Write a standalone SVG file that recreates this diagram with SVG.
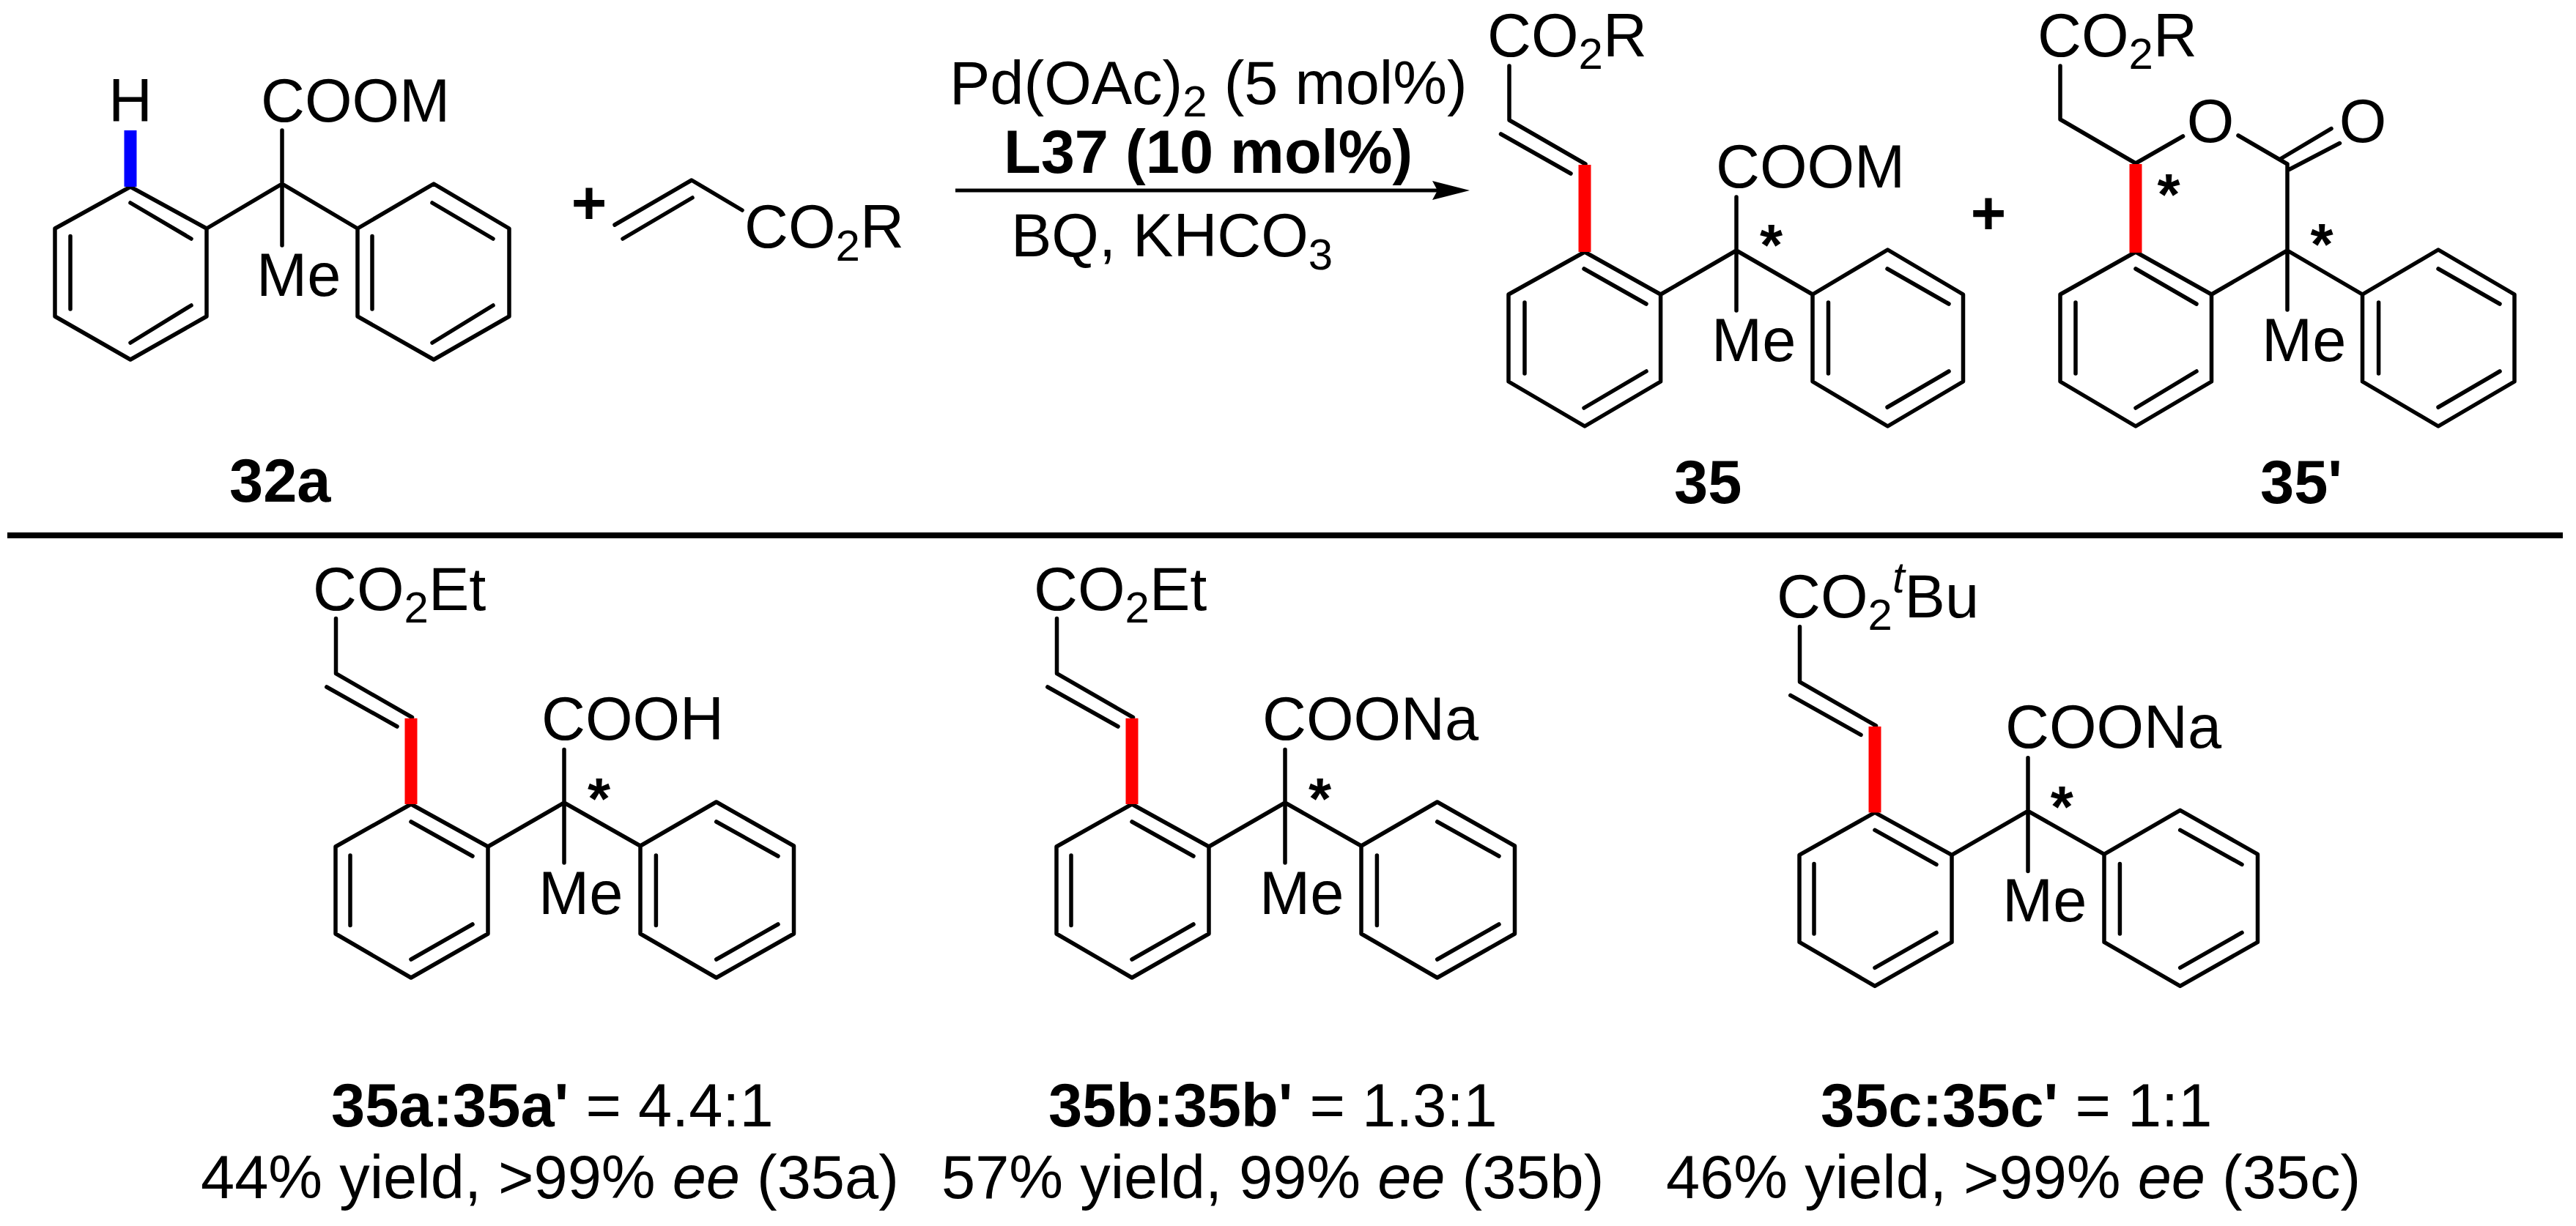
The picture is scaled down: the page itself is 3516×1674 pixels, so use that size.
<svg xmlns="http://www.w3.org/2000/svg" width="3516" height="1674" viewBox="0 0 3516 1674">
<style>
text{font-family:"Liberation Sans",Arial,sans-serif;font-size:83px;fill:#000}
.b{font-weight:700}
.s{font-size:60px}
.i{font-style:italic}
.m{text-anchor:middle}
.st{font-size:80px;font-weight:700;text-anchor:middle}
.bd{fill:none;stroke:#000;stroke-width:5.5;stroke-linecap:round;stroke-linejoin:round}
.red{fill:none;stroke:#f00;stroke-width:17}
.blue{fill:none;stroke:#00f;stroke-width:17}
.rule{stroke:#000;stroke-width:8}
.ar{stroke:#000;stroke-width:5;fill:none}
</style>
<defs>
<g id="sk">
<path class="bd" d="M458.5 844.4V919.7L562.5 979.5M445.8 938L542 992M561 1098L666 1156V1275L561 1335L458 1275V1156ZM561 1122L645 1169M478 1168V1263.5M561 1310L645 1262M666 1156L770 1096L874 1155M770 1023.4V1178M977.7 1095L1083.5 1155V1275L977.7 1335L874 1275V1155ZM977.7 1122L1062 1169M895.4 1168V1263.5M977.7 1310L1062 1262"/>
<path class="red" d="M561 980.7V1098"/>
</g>
</defs>
<rect width="3516" height="1674" fill="#fff"/>

<g id="node-32a">
<path class="bd" d="M178 255L282 312V432L178 491L75 432V312ZM178 277L261 326M96 322.6V422M178 468L261 417M282 312L385 251L488 312M385 178V335M592 251L695 312V432L592 491L488 432V312ZM590 277L673 326M508 322.6V422M590 468L673 417"/>
<path class="blue" d="M178 178V255"/>
<text class="m" x="178" y="165.6">H</text>
<text x="356" y="165.6">COOM</text>
<text x="350" y="404">Me</text>
<text class="b" x="313" y="685">32a</text>
</g>
<g id="plus-1"><text class="b m" x="804" y="306">+</text></g>
<g id="node-acrylate">
<path class="bd" d="M839 307L944 246L1013 287M850 326L945 270"/>
<text x="1016" y="338">CO<tspan class="s" dy="18">2</tspan><tspan dy="-18">R</tspan></text>
</g>

<g id="conditions">
<text x="1296" y="142">Pd(OAc)<tspan class="s" dy="17">2</tspan><tspan dy="-17"> (5 mol%)</tspan></text>
<text class="b" x="1370" y="236">L37 (10 mol%)</text>
<text x="1380" y="350">BQ, KHCO<tspan class="s" dy="18">3</tspan></text>
</g>
<g id="connectors">
<path class="ar" d="M1304 260H1965"/>
<path d="M1955 247L2006 260L1955 273L1962 260Z" fill="#000"/>
</g>

<g id="node-35">
<path class="bd" d="M2060 90V164L2164 224M2048.5 183L2144 237M2163 344L2266.6 402V521L2163 582L2059 521V402ZM2162 367L2247 415M2081 413V510M2162 557L2247 507M2266.6 402L2370 342L2474 402M2370 269V424M2576.5 341L2679.5 402V521L2576.5 582L2474 521V402ZM2576 367L2660 415M2495.5 413V510M2576 556L2660 507"/>
<path class="red" d="M2163 225V344"/>
<text x="2030" y="77">CO<tspan class="s" dy="17">2</tspan><tspan dy="-17">R</tspan></text>
<text x="2342" y="256">COOM</text>
<text class="st" x="2417.5" y="362">*</text>
<text x="2336" y="492.5">Me</text>
<text class="b" x="2285" y="686.5">35</text>
</g>
<g id="plus-2"><text class="b m" x="2714" y="320">+</text></g>
<g id="node-35p">
<path class="bd" d="M2812 90V163L2915 223L2979.6 186M3055 185L3122 224M3112.5 217L3182 175.6M3123.5 232L3193.5 195.5M3122 224V423M2915 344L3018.5 402V521L2915 582L2812 521V402ZM2915 367L2998 415M2833 413V510M2915 557L2998 507M3018.5 402L3122 342L3224.5 402M3328 341L3432 402V521L3328 582L3224.5 521V402ZM3328 367L3412 415M3246.6 413V510M3328 556L3412 507"/>
<path class="red" d="M2915 224V345"/>
<text x="2781" y="77">CO<tspan class="s" dy="17">2</tspan><tspan dy="-17">R</tspan></text>
<text class="m" x="3017" y="194">O</text>
<text class="m" x="3225" y="194">O</text>
<text class="st" x="2960" y="293">*</text>
<text class="st" x="3169" y="361">*</text>
<text x="3087" y="492.5">Me</text>
<text class="b" x="3085" y="686.5">35'</text>
</g>

<path id="rule" class="rule" d="M10 731H3498"/>

<g id="node-35a">
<use href="#sk"/>
<text x="427" y="832.5">CO<tspan class="s" dy="17">2</tspan><tspan dy="-17">Et</tspan></text>
<text x="739" y="1010">COOH</text>
<text class="st" x="817.6" y="1118">*</text>
<text x="735" y="1247.5">Me</text>
<text x="452" y="1538"><tspan class="b">35a:35a'</tspan> = 4.4:1</text>
<text x="274" y="1636">44% yield, &gt;99% <tspan class="i">ee</tspan> (35a)</text>
</g>
<g id="node-35b">
<use href="#sk" transform="translate(984 0)"/>
<text x="1411" y="832.5">CO<tspan class="s" dy="17">2</tspan><tspan dy="-17">Et</tspan></text>
<text x="1723" y="1010">COONa</text>
<text class="st" x="1801.6" y="1118">*</text>
<text x="1719" y="1247.5">Me</text>
<text x="1431" y="1538"><tspan class="b">35b:35b'</tspan> = 1.3:1</text>
<text x="1285" y="1636">57% yield, 99% <tspan class="i">ee</tspan> (35b)</text>
</g>
<g id="node-35c">
<use href="#sk" transform="translate(1998 11.4)"/>
<text x="2425" y="842.7">CO<tspan class="s" dy="17">2</tspan><tspan class="s i" dy="-51">t</tspan><tspan dy="34">Bu</tspan></text>
<text x="2737" y="1021">COONa</text>
<text class="st" x="2814.4" y="1129">*</text>
<text x="2733" y="1257.8">Me</text>
<text x="2485" y="1538"><tspan class="b">35c:35c'</tspan> = 1:1</text>
<text x="2274" y="1636">46% yield, &gt;99% <tspan class="i">ee</tspan> (35c)</text>
</g>
</svg>
